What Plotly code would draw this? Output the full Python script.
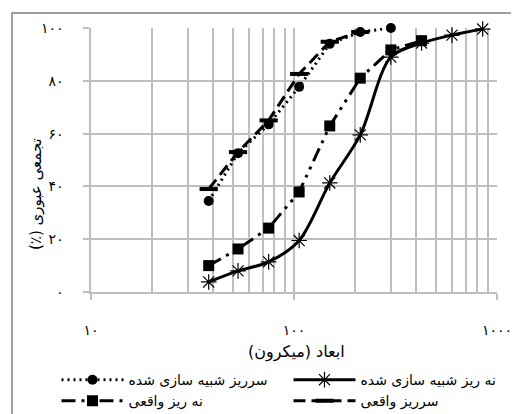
import plotly.graph_objects as go

# sieve sizes (micron)
sizes_over_sim = [38, 53, 75, 106, 150, 212, 300]
over_sim = [34.5, 52.6, 63.5, 77.7, 94.0, 98.5, 100.0]

sizes_under_sim = [38, 53, 75, 106, 150, 212, 300, 425, 600, 850]
under_sim = [3.8, 8.0, 11.4, 19.5, 41.3, 59.5, 89.0, 94.3, 97.3, 99.6]

sizes_under_act = [38, 53, 75, 106, 150, 212, 300, 425]
under_act = [10.0, 16.3, 24.2, 37.9, 62.9, 81.0, 91.7, 95.2]

sizes_over_act = [38, 53, 75, 106, 150, 212]
over_act = [39.0, 53.0, 65.0, 82.6, 94.8, 98.5]

name_over_sim = "سرریز شبیه سازی شده"
name_under_sim = "نه ریز شبیه سازی شده"
name_under_act = "نه ریز واقعی"
name_over_act = "سرریز واقعی"

y_tickvals = [0, 20, 40, 60, 80, 100]
y_ticktext = ["۰", "۲۰", "۴۰", "۶۰", "۸۰", "۱۰۰"]
x_tickvals = [10, 100, 1000]
x_ticktext = ["۱۰", "۱۰۰", "۱۰۰۰"]

x_title = "ابعاد (میکرون)"
y_title = "\u202Bتجمعی عبوری (٪)\u202C"

FONT = "DejaVu Sans"
OFF = 8  # page body margin offset

fig = go.Figure()
fig.add_trace(go.Scatter(
    x=sizes_over_sim, y=over_sim, name=name_over_sim, mode="lines+markers",
    line=dict(color="black", width=3, dash="2px,4px"),
    marker=dict(symbol="circle", size=10, color="black"), cliponaxis=False))
fig.add_trace(go.Scatter(
    x=sizes_under_sim, y=under_sim, name=name_under_sim, mode="lines+markers",
    line=dict(color="black", width=3, shape="spline", smoothing=0.9),
    marker=dict(symbol="asterisk-open", size=13, line=dict(color="#333333", width=1.2)),
    cliponaxis=False))
fig.add_trace(go.Scatter(
    x=sizes_under_act, y=under_act, name=name_under_act, mode="lines+markers",
    line=dict(color="black", width=3, dash="14px,6px,3px,6px,3px,6px"),
    marker=dict(symbol="square", size=11, color="black"), cliponaxis=False))
fig.add_trace(go.Scatter(
    x=sizes_over_act, y=over_act, name=name_over_act, mode="lines+markers",
    line=dict(color="black", width=3, dash="12px,6px"),
    marker=dict(symbol="line-ew-open", size=13, line=dict(color="black", width=4)),
    cliponaxis=False))

grid_c = "#bfbfbf"
fig.update_layout(
    width=519, height=414,
    margin=dict(l=91 - OFF, r=519 - 497 + OFF, t=28 - OFF, b=414 - 292 + OFF, autoexpand=False),
    paper_bgcolor="white", plot_bgcolor="white",
    font=dict(family=FONT, color="black", size=12),
    showlegend=True,
    legend=dict(orientation="h", x=-0.085, y=-0.273, xanchor="left", yanchor="top",
                font=dict(family=FONT, size=14, color="black"),
                itemwidth=62, entrywidth=155, entrywidthmode="pixels",
                tracegroupgap=0, bgcolor="rgba(0,0,0,0)"),
    xaxis=dict(type="log", range=[1, 3], tickvals=x_tickvals, ticktext=x_ticktext,
               showgrid=True, gridcolor=grid_c, gridwidth=1.5,
               showline=True, linecolor=grid_c, linewidth=1.5,
               ticks="outside", ticklen=6, tickcolor=grid_c, tickwidth=1.5,
               ticklabelstandoff=18,
               minor=dict(showgrid=True, gridcolor=grid_c, gridwidth=1.5, dtick="D1"),
               tickfont=dict(family=FONT, size=14, color="black"),
               zeroline=False),
    yaxis=dict(range=[0, 100], tickvals=y_tickvals, ticktext=y_ticktext,
               showgrid=True, gridcolor=grid_c, gridwidth=1.5,
               showline=True, linecolor=grid_c, linewidth=1.5,
               ticks="outside", ticklen=6, tickcolor=grid_c, tickwidth=1.5,
               ticklabelstandoff=17,
               tickfont=dict(family=FONT, size=14, color="black"),
               zeroline=False),
    annotations=[
        dict(text=x_title, xref="paper", yref="paper",
             x=(296 - 91) / 406, y=(292 - 352) / 264, xanchor="center", yanchor="middle",
             showarrow=False, font=dict(family=FONT, size=16, color="black")),
        dict(text=y_title, xref="paper", yref="paper", textangle=-90,
             x=(36 - 91) / 406, y=(292 - 194) / 264, xanchor="center", yanchor="middle",
             showarrow=False, font=dict(family=FONT, size=15, color="black")),
    ],
    shapes=[dict(type="rect", xref="paper", yref="paper",
                 x0=(12 - 91) / 406, x1=(530 - 91) / 406,
                 y0=(292 - 430) / 264, y1=(292 - 13) / 264,
                 line=dict(color="#808080", width=1.5), fillcolor="rgba(0,0,0,0)",
                 layer="below")],
)

fig.write_html("out.html")
